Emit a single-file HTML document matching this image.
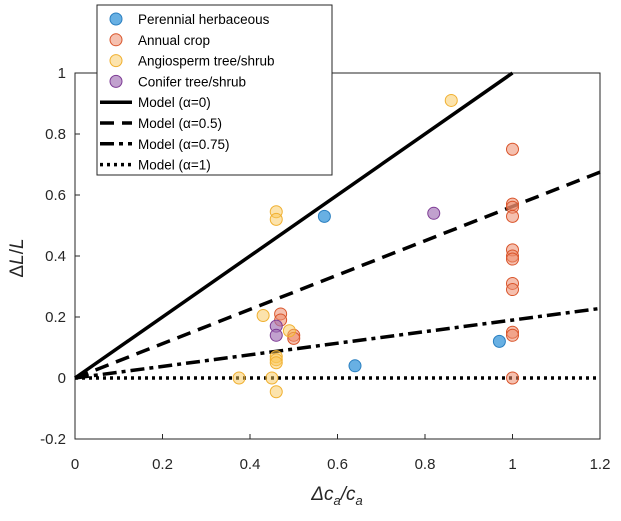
<!DOCTYPE html>
<html><head><meta charset="utf-8"><style>
html,body{margin:0;padding:0;background:#fff;}
svg text{font-family:"Liberation Sans",Arial,sans-serif;}
</style></head><body>
<svg id="c" width="621" height="516" xmlns="http://www.w3.org/2000/svg">
<rect x="75" y="73" width="525" height="366" fill="#fff" stroke="#262626" stroke-width="1"/>
<g id="ticks"></g>
<g id="lines"></g>
<g id="pts"></g>
<text x="337" y="500" text-anchor="middle" font-size="19" font-style="italic" fill="#262626">Δc<tspan font-size="13" dy="5">a</tspan><tspan dy="-5">/c</tspan><tspan font-size="13" dy="5">a</tspan></text>
<text transform="translate(23,258) rotate(-90)" text-anchor="middle" font-size="19" fill="#262626">Δ<tspan font-style="italic">L</tspan>/<tspan font-style="italic">L</tspan></text>
<g id="legend"></g>
</svg>
<script>
const xTicks=[0,0.2,0.4,0.6,0.8,1,1.2];
const yTicks=[-0.2,0,0.2,0.4,0.6,0.8,1];
const perennialX=[0.57,0.64,0.97];
const perennialY=[0.53,0.04,0.12];
const annualX=[0.47,0.47,0.5,0.5,1,1,1,1,1,1,1,1,1,1,1,1];
const annualY=[0.21,0.19,0.14,0.13,0.75,0.57,0.56,0.53,0.42,0.40,0.39,0.31,0.29,0.15,0.14,0.0];
const angioX=[0.46,0.46,0.43,0.49,0.46,0.46,0.46,0.375,0.45,0.46,0.86];
const angioY=[0.545,0.52,0.205,0.155,0.07,0.06,0.05,0,0,-0.045,0.91];
const coniferX=[0.46,0.46,0.82];
const coniferY=[0.17,0.14,0.54];
const alphas=[0,0.5,0.75,1];
const modelSlopes=[1,0.5625,0.19,0];
const NS='http://www.w3.org/2000/svg';
const X=v=>75+v*(525/1.2), Y=v=>378-v*305;
function mk(t,a,p){const e=document.createElementNS(NS,t);for(const k in a)e.setAttribute(k,a[k]);(p||document.getElementById('c')).appendChild(e);return e;}
const tg=document.getElementById('ticks');
xTicks.forEach(v=>{const l=mk('line',{x1:X(v),x2:X(v),y1:439,y2:434,stroke:'#262626'},tg);


const t=mk('text',{x:X(v),y:469,'text-anchor':'middle','font-size':15,fill:'#262626'},tg);t.textContent=String(v);

});
yTicks.forEach(v=>{const l=mk('line',{x1:75,x2:80,y1:Y(v),y2:Y(v),stroke:'#262626'},tg);


const t=mk('text',{x:66,y:Y(v)+5,'text-anchor':'end','font-size':15,fill:'#262626'},tg);t.textContent=String(v);

});
const dashes=['none','14,8','14,5,4,5','3,4'];
const lg=document.getElementById('lines');
alphas.forEach((a,i)=>{const s=modelSlopes[i];let xe=1.2,ye=s*1.2;if(ye>1){ye=1;xe=1/s;}
const l=mk('line',{x1:X(0),y1:Y(0),x2:X(xe),y2:Y(ye),stroke:'#000','stroke-width':3.5,'stroke-dasharray':dashes[i]},lg);

});
const series=[[perennialX,perennialY,'rgba(77,162,222,0.85)','#2a7fc0','perennial'],[annualX,annualY,'rgba(236,140,110,0.55)','#d9542a','annual'],[angioX,angioY,'rgba(250,200,90,0.5)','#f0b030','angiosperm'],[coniferX,coniferY,'rgba(160,110,180,0.65)','#7e3c95','conifer']];
const pg=document.getElementById('pts');
series.forEach(s=>{s[0].forEach((x,i)=>{const c=mk('circle',{cx:X(x),cy:Y(s[1][i]),r:6,fill:s[2],stroke:s[3],'stroke-width':1},pg);

});});
const L=document.getElementById('legend');
mk('rect',{x:97,y:5,width:235,height:170,fill:'#fff',stroke:'#262626'},L);
const labels=['Perennial herbaceous','Annual crop','Angiosperm tree/shrub','Conifer tree/shrub','Model (α=0)','Model (α=0.5)','Model (α=0.75)','Model (α=1)'];
labels.forEach((t,i)=>{const y=19+i*20.8;
if(i<4){const c=mk('circle',{cx:116,cy:y,r:6,fill:series[i][2],stroke:series[i][3]},L);

}
else{const l=mk('line',{x1:100,x2:132,y1:y,y2:y,stroke:'#000','stroke-width':3.5,'stroke-dasharray':dashes[i-4]},L);

}
const tx=mk('text',{x:138,y:y+5,'font-size':13.5,fill:'#000'},L);tx.textContent=t;

});
</script>
</body></html>
